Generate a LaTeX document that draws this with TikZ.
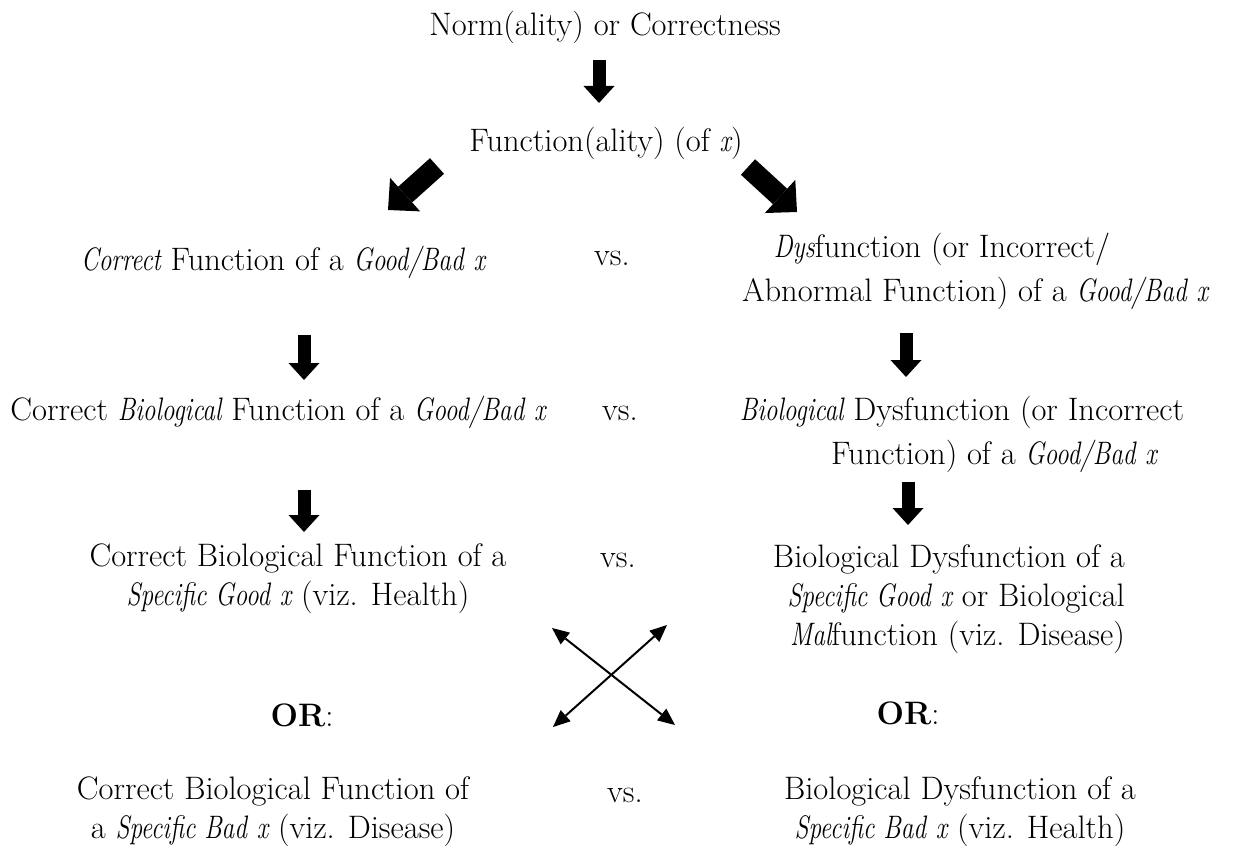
\documentclass[tikz,border=0pt]{standalone}
\usepackage{tikz}
\usepackage{graphicx}
\usetikzlibrary{arrows.meta}

% narrow italics, closer to the Garamond of the original
\newcommand{\ital}[1]{\scalebox{0.78}[1]{\itshape #1}}

\begin{document}
\begin{tikzpicture}[x=1pt,y=-1pt,
    every node/.style={inner sep=0pt,font=\fontsize{32.5}{39}\selectfont},
    bigarrow/.style={line width=13pt,-{Triangle[width=31pt,length=17pt,line width=0pt]}},
    diagarrow/.style={line width=21pt,-{Triangle[width=45pt,length=23pt,line width=0pt]}},
    crossarrow/.style={line width=2pt,{Triangle[width=15pt,length=17pt,line width=0pt]}-{Triangle[width=15pt,length=17pt,line width=0pt]}}]

    \useasboundingbox (0,0) rectangle (1239,848);

    \node (norm) at (605,27) {Norm(ality) or Correctness};
    \node (func) at (606,143) {Function(ality) (of \ital{x})};

    \node (l3) at (283,262) {\ital{Correct} Function of a \ital{Good/Bad} \ital{x}};
    \node (vs3) at (612,258) {vs.};
    \node[align=center] (r3) at (975,271) {\ital{Dys}function (or Incorrect/\hspace*{66pt}\\[5pt]Abnormal Function) of a \ital{Good/Bad} \ital{x}};

    \node (l4) at (278,412) {Correct \ital{Biological} Function of a \ital{Good/Bad} \ital{x}};
    \node (vs4) at (620,413) {vs.};
    \node[align=center] (r4) at (962,434) {\ital{Biological} Dysfunction (or Incorrect\\[5pt]\hspace*{64pt}Function) of a \ital{Good/Bad} \ital{x}};

    \node[align=center] (l5) at (298,579) {Correct Biological Function of a\\\ital{Specific Good} \ital{x} (viz. Health)};
    \node (vs5) at (618,560) {vs.};
    \node[align=right,anchor=east] (r5) at (1125,599) {Biological Dysfunction of a\\\ital{Specific Good} \ital{x} or Biological\\\ital{Mal}function (viz. Disease)};

    \node (or1) at (302,715) {\textbf{OR}:};
    \node (or2) at (908,713) {\textbf{OR}:};

    \node[align=center] (l6) at (273,812) {Correct Biological Function of\\a \ital{Specific Bad} \ital{x} (viz. Disease)};
    \node (vs6) at (625,795) {vs.};
    \node[align=center] (r6) at (960,812) {Biological Dysfunction of a\\\ital{Specific Bad} \ital{x} (viz. Health)};

    % block arrows
    \draw[bigarrow] ([shift={(-6,33)}]norm.center) -- ([shift={(-7,-40)}]func.center);
    \draw[diagarrow] ([shift={(-169,23)}]func.center) -- ([shift={(105,-52)}]l3.center);
    \draw[diagarrow] ([shift={(142,24)}]func.center) -- ([shift={(-178,-59)}]r3.center);

    \draw[bigarrow] ([shift={(21,73)}]l3.center) -- ([shift={(26,-32)}]l4.center);
    \draw[bigarrow] ([shift={(26,78)}]l4.center) -- ([shift={(6,-47)}]l5.center);
    \draw[bigarrow] ([shift={(-69,62)}]r3.center) -- ([shift={(-56,-57)}]r4.center);
    \draw[bigarrow] ([shift={(-54,48)}]r4.center) -- ([shift={(-217,-74)}]r5.east);

    % crossing arrows
    \coordinate (cross) at (612,676);
    \draw[crossarrow] ([shift={(-60,-48)}]cross) -- ([shift={(63,49)}]cross);
    \draw[crossarrow] ([shift={(55,-51)}]cross) -- ([shift={(-59,51)}]cross);

\end{tikzpicture}
\end{document}
